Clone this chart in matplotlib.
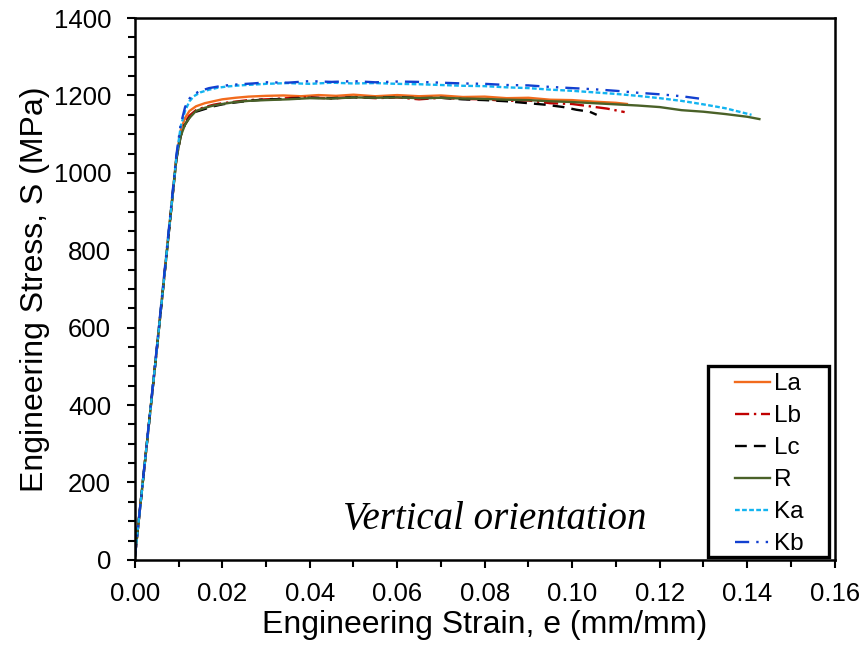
import matplotlib
matplotlib.use("Agg")
import matplotlib.pyplot as plt
from matplotlib.ticker import MultipleLocator, FormatStrFormatter
from matplotlib.patches import Rectangle

plt.rcParams['font.family'] = ['Liberation Sans', 'DejaVu Sans']

# ---- data (engineering strain mm/mm, engineering stress MPa) ----
La_x = [0, 0.005, 0.0095, 0.0105, 0.0115, 0.0125, 0.014, 0.016, 0.018, 0.02, 0.023, 0.026, 0.03, 0.034, 0.038,
        0.042, 0.046, 0.05, 0.055, 0.06, 0.065, 0.07, 0.075, 0.08, 0.085, 0.09, 0.095, 0.1, 0.105, 0.11, 0.1125]
La_y = [5, 540, 1040, 1110, 1142, 1160, 1172, 1180, 1185, 1190, 1194, 1197, 1199, 1200, 1198,
        1201, 1199, 1202, 1198, 1201, 1198, 1200, 1196, 1197, 1193, 1194, 1189, 1188, 1184, 1181, 1178]

Lb_x = [0, 0.005, 0.0095, 0.0105, 0.0115, 0.0125, 0.014, 0.016, 0.018, 0.02, 0.023, 0.026, 0.03, 0.035, 0.04,
        0.045, 0.05, 0.055, 0.06, 0.065, 0.07, 0.075, 0.08, 0.085, 0.09, 0.095, 0.1, 0.104, 0.108, 0.112]
Lb_y = [5, 540, 1035, 1100, 1130, 1148, 1162, 1170, 1176, 1180, 1184, 1188, 1190, 1193, 1195,
        1192, 1196, 1193, 1195, 1190, 1194, 1191, 1190, 1186, 1187, 1180, 1178, 1172, 1166, 1157]

Lc_x = [0, 0.005, 0.0095, 0.0105, 0.0115, 0.0125, 0.014, 0.016, 0.018, 0.02, 0.023, 0.026, 0.03, 0.035, 0.04,
        0.045, 0.05, 0.055, 0.06, 0.065, 0.07, 0.075, 0.08, 0.085, 0.09, 0.094, 0.098, 0.101, 0.104, 0.1056]
Lc_y = [5, 540, 1035, 1095, 1125, 1143, 1158, 1165, 1172, 1177, 1182, 1186, 1190, 1191, 1194,
        1193, 1195, 1194, 1196, 1193, 1194, 1190, 1188, 1185, 1180, 1176, 1170, 1163, 1158, 1150]

R_x = [0, 0.005, 0.0095, 0.0105, 0.0115, 0.0125, 0.014, 0.016, 0.018, 0.02, 0.023, 0.026, 0.03, 0.035, 0.04,
       0.045, 0.05, 0.055, 0.06, 0.065, 0.07, 0.075, 0.08, 0.085, 0.09, 0.095, 0.1, 0.105, 0.11, 0.115, 0.12,
       0.125, 0.13, 0.135, 0.14, 0.1428]
R_y = [5, 540, 1035, 1095, 1125, 1142, 1160, 1168, 1174, 1178, 1183, 1186, 1188, 1190, 1193,
       1192, 1195, 1194, 1195, 1193, 1194, 1192, 1191, 1189, 1188, 1185, 1183, 1180, 1177, 1174, 1170,
       1162, 1158, 1152, 1145, 1139]

Ka_x = [0, 0.005, 0.0095, 0.0105, 0.0115, 0.0125, 0.0135, 0.015, 0.017, 0.019, 0.021, 0.024, 0.027, 0.03, 0.035,
        0.04, 0.045, 0.05, 0.055, 0.06, 0.065, 0.07, 0.075, 0.08, 0.085, 0.09, 0.095, 0.1, 0.105, 0.11, 0.115,
        0.12, 0.125, 0.13, 0.135, 0.141]
Ka_y = [5, 540, 1040, 1120, 1160, 1185, 1198, 1208, 1215, 1220, 1223, 1226, 1228, 1230, 1232,
        1230, 1233, 1231, 1232, 1230, 1229, 1227, 1225, 1224, 1221, 1219, 1215, 1212, 1208, 1204, 1199,
        1193, 1186, 1177, 1167, 1150]

Kb_x = [0, 0.005, 0.0095, 0.0105, 0.0115, 0.0125, 0.0135, 0.015, 0.017, 0.019, 0.021, 0.024, 0.027, 0.03, 0.035,
        0.04, 0.045, 0.05, 0.055, 0.06, 0.065, 0.07, 0.075, 0.08, 0.085, 0.09, 0.095, 0.1, 0.105, 0.11, 0.115,
        0.12, 0.125, 0.129]
Kb_y = [5, 545, 1045, 1125, 1170, 1192, 1203, 1212, 1219, 1223, 1226, 1229, 1231, 1234, 1233,
        1237, 1235, 1237, 1234, 1236, 1235, 1233, 1231, 1230, 1227, 1226, 1222, 1219, 1216, 1212, 1207,
        1203, 1198, 1192]

series = [
    ("La", La_x, La_y, "#F26B1D", "-"),
    ("Lb", Lb_x, Lb_y, "#C00000", (0, (6, 2, 1, 2))),
    ("Lc", Lc_x, Lc_y, "#000000", (0, (5, 3))),
    ("R", R_x, R_y, "#4A6128", "-"),
    ("Ka", Ka_x, Ka_y, "#12B4F0", (0, (2, 1))),
    ("Kb", Kb_x, Kb_y, "#1240D0", (0, (6, 3, 1, 3, 1, 3))),
]

fig = plt.figure(figsize=(8.64, 6.45), dpi=100)
ax = fig.add_axes([0.156, 0.132, 0.810, 0.840])

for name, x, y, c, ls in series:
    ax.plot(x, y, color=c, linestyle=ls, linewidth=1.7, label=name)

ax.set_xlim(0, 0.16)
ax.set_ylim(0, 1400)
ax.xaxis.set_major_locator(MultipleLocator(0.02))
ax.xaxis.set_minor_locator(MultipleLocator(0.01))
ax.yaxis.set_major_locator(MultipleLocator(200))
ax.yaxis.set_minor_locator(MultipleLocator(50))
ax.xaxis.set_major_formatter(FormatStrFormatter('%.2f'))
ax.tick_params(which='both', direction='out', width=1.5, labelsize=18.5, colors='black')
ax.tick_params(which='major', length=6)
ax.tick_params(which='minor', length=5)
ax.tick_params(axis='x', which='major', pad=10)
ax.tick_params(axis='y', which='major', pad=11)
for s in ax.spines.values():
    s.set_linewidth(1.8)

ax.set_xlabel("Engineering Strain, e (mm/mm)", fontsize=23, labelpad=3)
ax.set_ylabel("Engineering Stress, S (MPa)", fontsize=23, labelpad=3)

ax.text(0.515, 0.075, "Vertical orientation", transform=ax.transAxes,
        fontsize=28, style='italic', family=['Liberation Serif', 'DejaVu Serif'],
        ha='center', va='center')

# legend frame (drawn in axes coordinates)
ax.add_patch(Rectangle((0.8186, 0.0055), 0.9914 - 0.8186, 0.358 - 0.0055,
                       transform=ax.transAxes, fill=True, facecolor='white',
                       edgecolor='black', linewidth=2.4, zorder=4))
leg = ax.legend(loc='upper left', bbox_to_anchor=(0.8574, 0.344), borderaxespad=0,
                fontsize=17.5, frameon=False, handlelength=1.45,
                handletextpad=0.17, labelspacing=0.41, borderpad=0)
leg.set_zorder(5)

fig.savefig("out.png", dpi=100)
